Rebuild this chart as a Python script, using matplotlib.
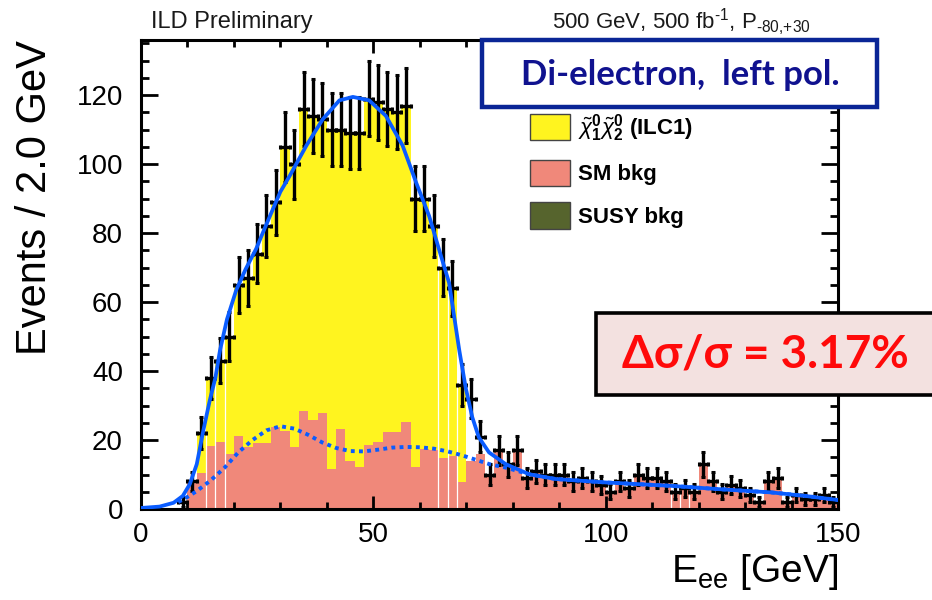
import matplotlib
matplotlib.use("Agg")
import matplotlib.pyplot as plt
from matplotlib.patches import Rectangle, Patch
import numpy as np

plt.rcParams['font.family'] = ['Liberation Sans', 'DejaVu Sans']
plt.rcParams['mathtext.fontset'] = 'custom'
plt.rcParams['mathtext.rm'] = 'Liberation Sans'
plt.rcParams['mathtext.it'] = 'Liberation Sans:italic'
plt.rcParams['mathtext.bf'] = 'Liberation Sans:bold'

# 2 GeV bins from 0 to 150 GeV
bin_edges = np.arange(0, 152, 2)

# observed events per bin
n_data = [0, 0, 0, 0, 2, 8, 22, 38, 43, 50,
          65, 67, 74, 82, 89, 105, 100, 116, 114, 113,
          110, 110, 109, 109, 119, 118, 116, 115, 117, 90,
          90, 82, 70, 64, 36, 32, 21, 10, 17, 13,
          17, 9, 11, 10, 10, 10, 8, 9, 8, 7,
          5, 8, 6, 10, 9, 9, 8, 5, 6, 5,
          13, 8, 5, 7, 6, 4, 2, 8, 9, 2,
          4, 3, 3, 4, 2]

# SM background (stacked first)
sm_bkg = [0, 0, 0, 0, 0, 8, 10.5, 18.4, 19.5, 16,
          21.3, 18, 19, 19.2, 23.7, 22.7, 17.9, 28.3, 25.9, 27.7,
          11.6, 23.2, 14, 12.2, 18.5, 19.3, 22.4, 22.4, 25.1, 12.2,
          17.5, 17, 14.8, 15.5, 7.7, 14, 16, 10, 17, 13,
          17, 9, 11, 10, 10, 10, 8, 9, 8, 7,
          5, 8, 6, 10, 9, 9, 8, 5, 6, 5,
          13, 8, 5, 7, 6, 4, 2, 8, 9, 2,
          4, 3, 3, 4, 2]

# neutralino pair signal, stacked on top of the SM background
signal = [0, 0, 0, 0, 0, 0, 11.5, 19.6, 23.5, 34,
          43.7, 49, 55, 62.8, 65.3, 82.3, 82.1, 87.7, 88.1, 85.3,
          98.4, 86.8, 95, 96.8, 100.5, 98.7, 93.6, 92.6, 91.9, 77.8,
          72.5, 65, 55.2, 48.5, 28.3, 0, 0, 0, 0, 0,
          0, 0, 0, 0, 0, 0, 0, 0, 0, 0,
          0, 0, 0, 0, 0, 0, 0, 0, 0, 0,
          0, 0, 0, 0, 0, 0, 0, 0, 0, 0,
          0, 0, 0, 0, 0]

# total fit (signal + background)
fit_x = [0, 4, 7, 9, 10.5, 12, 13.4, 14.8, 16, 17, 18.5, 20.5, 22.5, 24.8,
         26.5, 28.4, 30, 32, 35.6, 39.1, 42.7, 45.6, 49.1, 52.7, 56.3, 59.2,
         62, 64.2, 66.3, 68.5, 69.9, 71.3, 72.7, 74.9, 78.5, 83.5, 89.2,
         100, 114.2, 125, 135.7, 142.9, 150]
fit_y = [0.3, 0.7, 1.8, 3.8, 7.2, 13, 22.7, 31.5, 38, 46, 55, 63.5, 69.5, 75.5,
         81, 87, 92, 96.6, 105.4, 113, 118.5, 119.5, 118.5, 114, 105.4, 94.7,
         85, 75, 65.6, 46, 35, 26.6, 20.8, 16.4, 13, 10.1, 8.7,
         7.7, 6.7, 5.7, 4.8, 3.8, 2.6]

# background component of the fit
bkg_x = [8, 10, 12, 15, 18, 21, 24, 27, 30, 33, 36, 39, 42, 45, 48, 51, 54,
         57, 60, 63, 66, 69, 72, 75, 78.5, 83.5, 89.2, 100, 114.2, 125,
         135.7, 142.9, 150]
bkg_y = [2, 3.5, 5.2, 8.3, 12, 16.5, 20, 22.8, 24, 23.3, 21.5, 19.3, 17.7,
         16.8, 16.7, 17.2, 17.8, 18, 17.9, 17.5, 16.7, 15.6, 14.3, 13, 12,
         10.1, 8.7, 7.7, 6.7, 5.7, 4.8, 3.8, 2.6]

# bin edges where thin white seams show through the stack
seam_edges = [14, 16, 18, 64, 66, 68, 114, 116, 118]

W, H = 932, 600
fig = plt.figure(figsize=(W / 100, H / 100), dpi=100)
ax = fig.add_axes([141 / W, 1 - 509 / H, 697 / W, 469 / H])

lo = bin_edges[:-1]
centers = lo + 1.0
n_data = np.array(n_data, dtype=float)
sm_bkg = np.array(sm_bkg, dtype=float)
signal = np.array(signal, dtype=float)

c_sig = '#fff41f'
c_sm = '#f0887a'
c_susy = '#56642d'
c_fit = '#0a5cff'

ax.bar(lo, sm_bkg, width=2, align='edge', color=c_sm, lw=0, zorder=1)
ax.bar(lo, signal, bottom=sm_bkg, width=2, align='edge', color=c_sig, lw=0, zorder=1)

stack = sm_bkg + signal
for e in seam_edges:
    i = e // 2
    top = min(stack[i - 1], stack[i])
    ax.vlines(e, 0, top, colors='white', lw=0.9, zorder=2)

m = n_data > 0
ax.errorbar(centers[m], n_data[m], yerr=np.sqrt(n_data[m]), xerr=1.0,
            fmt='none', ecolor='black', elinewidth=2.4, capsize=1.6,
            capthick=2.2, zorder=3)

ax.plot(bkg_x, bkg_y, color=c_fit, lw=2.8, ls=(0, (1, 1.1)), zorder=4)
ax.plot(fit_x, fit_y, color=c_fit, lw=2.7, zorder=5)

ax.set_xlim(0, 150)
ax.set_ylim(0, 136)
ax.set_xticks([0, 50, 100, 150])
ax.set_xticks(np.arange(0, 151, 10), minor=True)
ax.set_yticks(np.arange(0, 121, 20))
ax.set_yticks(np.arange(0, 136, 5), minor=True)
ax.tick_params(which='both', direction='in', top=True, right=True,
               width=2.0, labelsize=20)
ax.tick_params(axis='y', which='major', length=12, pad=13)
ax.tick_params(axis='y', which='minor', length=6)
ax.tick_params(axis='x', which='major', length=9.5, pad=9)
ax.tick_params(axis='x', which='minor', length=5)
for s in ax.spines.values():
    s.set_linewidth(2.2)

fig.text(35 / W, 1 - 40 / H, 'Events / 2.0 GeV', rotation=90,
         ha='center', va='top', fontsize=30)
fig.text(838 / W, 1 - 582 / H, r'E$_{\rm ee}$ [GeV]', ha='right',
         va='baseline', fontsize=28)

fig.text(151 / W, 1 - 28 / H, 'ILD Preliminary', ha='left', va='baseline',
         fontsize=17, color='#1a1a1a')
fig.text(811 / W, 1 - 29 / H, r'500 GeV, 500 fb$^{\text{-1}}$, P$_{\text{-80,+30}}$',
         ha='right', va='baseline', fontsize=16, color='#1a1a1a')

# legend
handles = [Patch(facecolor=c_sig, edgecolor='#444444', lw=1),
           Patch(facecolor=c_sm, edgecolor='#444444', lw=1),
           Patch(facecolor=c_susy, edgecolor='#444444', lw=1)]
labels = [r'$\tilde{\chi}^{\mathbf{0}}_{\mathbf{1}}\tilde{\chi}^{\mathbf{0}}_{\mathbf{2}}$ (ILC1)',
          'SM bkg', 'SUSY bkg']
leg = fig.legend(handles, labels, loc='upper left',
                 bbox_to_anchor=(530 / W, 1 - 112 / H), frameon=False,
                 prop={'weight': 'bold', 'size': 16}, handlelength=1.8,
                 handleheight=1.45, labelspacing=0.72, handletextpad=0.36,
                 borderpad=0, borderaxespad=0)

# title box
fig.add_artist(Rectangle((482 / W, 1 - 107 / H), 395 / W, 67 / H,
                         transform=fig.transFigure, facecolor='white',
                         edgecolor='#0a2596', lw=3.2, zorder=10))
fig.text(680 / W, 1 - 75 / H, 'Di-electron,  left pol.', ha='center',
         va='center', fontsize=25, fontweight='bold', color='#10128f',
         family='Lato', zorder=11)

# cross-section precision box
fig.add_artist(Rectangle((596 / W, 1 - 395 / H), 360 / W, 82 / H,
                         transform=fig.transFigure, facecolor='#f3e1e0',
                         edgecolor='black', lw=2.6, zorder=10))
fig.text(765 / W, 1 - 355 / H, 'Δσ/σ = 3.17%', ha='center', va='center',
         fontsize=33, fontweight='bold', color='#ff0a0a',
         family=['Lato', 'DejaVu Sans'], zorder=11)

fig.savefig('out.png', dpi=100)
